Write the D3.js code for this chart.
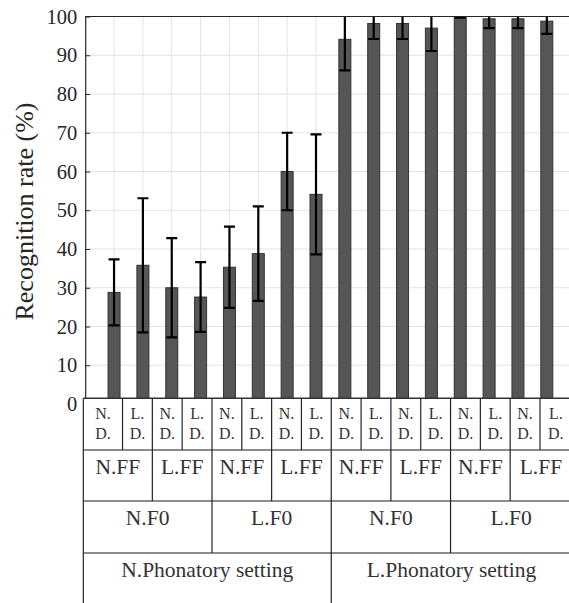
<!DOCTYPE html>
<html lang="en">
<head>
<meta charset="utf-8">
<title>Recognition rate</title>
<script src="https://cdn.jsdelivr.net/npm/d3@7"></script>
<style>
  body { margin: 0; background: #fff; }
  svg text { font-family: "Liberation Serif", "Times New Roman", Times, "DejaVu Serif", serif; }
</style>
</head>
<body>
<script>
// data
var values = [28.8, 35.8, 30.0, 27.6, 35.3, 38.8, 60.0, 54.1,
              94.1, 98.2, 98.2, 97.0, 100.0, 99.4, 99.4, 98.8];
var errors = [8.5, 17.3, 12.8, 9.0, 10.5, 12.2, 10.0, 15.5,
              8.0, 4.0, 4.0, 5.9, 0.3, 2.4, 2.4, 3.3];
var yTicks = [0, 10, 20, 30, 40, 50, 60, 70, 80, 90, 100];
var dirTop = ["N.", "L."];
var dirBottom = ["D.", "D."];
var ffLabels = ["N.FF", "L.FF"];
var f0Labels = ["N.F0", "L.F0"];
var settingLabels = ["N.Phonatory setting", "L.Phonatory setting"];

var w = 569, h = 603;

var svg = d3.select("body").append("svg")
  .attr("width", w).attr("height", h);

// plot area scales
var x = d3.scaleLinear().domain([0, 17]).range([85.2, 85.2 + 17 * 28.85]);
var y = d3.scaleLinear().domain([0, 100]).range([404, 16.5]);

svg.append("clipPath").attr("id", "plotclip")
  .append("rect")
  .attr("x", x(0)).attr("y", y(100))
  .attr("width", x(17) - x(0)).attr("height", y(0) - y(100));

// grid
svg.append("g").selectAll("line")
  .data(yTicks.filter(function(d) { return d > 0 && d < 100; }))
  .enter().append("line")
  .attr("x1", x(0)).attr("x2", x(17))
  .attr("y1", function(d) { return y(d); })
  .attr("y2", function(d) { return y(d); })
  .attr("stroke", "#e3e3e3").attr("stroke-width", 1);

svg.append("g").selectAll("line")
  .data(d3.range(1, 17))
  .enter().append("line")
  .attr("x1", function(d) { return x(d); })
  .attr("x2", function(d) { return x(d); })
  .attr("y1", y(100)).attr("y2", y(0))
  .attr("stroke", "#e3e3e3").attr("stroke-width", 1);

// bars
var plot = svg.append("g").attr("clip-path", "url(#plotclip)");
var bw = 12;

plot.selectAll("rect.bar")
  .data(values)
  .enter().append("rect")
  .attr("class", "bar")
  .attr("x", function(d, i) { return x(i + 1) - bw / 2; })
  .attr("y", function(d) { return y(d); })
  .attr("width", bw)
  .attr("height", function(d) { return y(0) - y(d); })
  .attr("fill", "#565656")
  .attr("stroke", "#333")
  .attr("stroke-width", 1);

// error bars
var eb = plot.selectAll("g.err")
  .data(values)
  .enter().append("g").attr("class", "err");

eb.append("line")
  .attr("x1", function(d, i) { return x(i + 1); })
  .attr("x2", function(d, i) { return x(i + 1); })
  .attr("y1", function(d, i) { return y(d + errors[i]); })
  .attr("y2", function(d, i) { return y(d - errors[i]); })
  .attr("stroke", "#000").attr("stroke-width", 2.2);

[1, -1].forEach(function(s) {
  eb.append("line")
    .attr("x1", function(d, i) { return x(i + 1) - 5.5; })
    .attr("x2", function(d, i) { return x(i + 1) + 5.5; })
    .attr("y1", function(d, i) { return y(d + s * errors[i]); })
    .attr("y2", function(d, i) { return y(d + s * errors[i]); })
    .attr("stroke", "#000").attr("stroke-width", 2.2);
});

// axes box
var yAxis = d3.axisLeft(y).tickValues(yTicks).tickSizeInner(-5).tickSizeOuter(0).tickPadding(8);
var ag = svg.append("g").attr("transform", "translate(" + x(0) + ",0)").call(yAxis);
ag.attr("font-family", null);
ag.select(".domain").attr("stroke", "#262626").attr("stroke-width", 1.2);
ag.selectAll(".tick line").attr("stroke", "#262626");
ag.selectAll(".tick text")
  .attr("font-size", 20.5).attr("fill", "#262626");

svg.append("line")
  .attr("x1", x(0)).attr("x2", x(17))
  .attr("y1", y(100)).attr("y2", y(100))
  .attr("stroke", "#262626").attr("stroke-width", 1.2);

svg.append("text")
  .attr("transform", "translate(33,211.5) rotate(-90)")
  .attr("text-anchor", "middle")
  .attr("font-size", 26)
  .attr("fill", "#262626")
  .text("Recognition rate (%)");

// label table below the plot
var tx = d3.scaleLinear().domain([0, 16]).range([92.7, 92.7 + 16 * 29.82]);
var tLeft = 83.3;
var rows = [398.3, 450, 501, 553, 610];
function cellX0(i) { return i === 0 ? tLeft : tx(i); }
function cellX1(i) { return tx(i); }

var table = svg.append("g");
table.append("rect")
  .attr("x", tLeft).attr("y", rows[0])
  .attr("width", w - tLeft + 10).attr("height", h - rows[0] + 10)
  .attr("fill", "#fff");

// horizontal lines
table.selectAll("line.h")
  .data(rows.slice(0, 4))
  .enter().append("line")
  .attr("x1", tLeft).attr("x2", w + 5)
  .attr("y1", function(d) { return d; })
  .attr("y2", function(d) { return d; })
  .attr("stroke", function(d, i) { return i === 0 ? "#333" : "#666"; })
  .attr("stroke-width", 1.5);

// each level: span of bottom columns and label list
var levels = [
  { row: 0, span: 1, labels: dirTop },
  { row: 1, span: 2, labels: ffLabels },
  { row: 2, span: 4, labels: f0Labels },
  { row: 3, span: 8, labels: settingLabels }
];

levels.forEach(function(lv) {
  var n = 16 / lv.span;
  var cells = d3.range(n).map(function(k) {
    return { k: k, x0: cellX0(k * lv.span), x1: k === n - 1 ? 571.7 : cellX1((k + 1) * lv.span) };
  });
  var y0 = rows[lv.row], y1 = rows[lv.row + 1];
  table.append("g").selectAll("line")
    .data(cells)
    .enter().append("line")
    .attr("x1", function(c) { return c.x0; })
    .attr("x2", function(c) { return c.x0; })
    .attr("y1", y0).attr("y2", Math.min(y1, h + 5))
    .attr("stroke", "#222").attr("stroke-width", 1.2);

  var t = table.append("g").selectAll("text")
    .data(cells)
    .enter().append("text")
    .attr("text-anchor", "middle")
    .attr("fill", "#333")
    .attr("x", function(c) { return (c.x0 + c.x1) / 2; });

  if (lv.row === 0) {
    t.attr("font-size", 16).attr("y", y0 + 20.5)
      .text(function(c) { return dirTop[c.k % 2]; });
    table.append("g").selectAll("text")
      .data(cells)
      .enter().append("text")
      .attr("text-anchor", "middle")
      .attr("fill", "#333")
      .attr("font-size", 16)
      .attr("x", function(c) { return (c.x0 + c.x1) / 2; })
      .attr("y", y0 + 41)
      .text(function(c) { return dirBottom[c.k % 2]; });
  } else {
    t.attr("font-size", 21.5).attr("y", y0 + 24)
      .text(function(c) { return lv.labels[c.k % 2]; });
  }
});
</script>
</body>
</html>
